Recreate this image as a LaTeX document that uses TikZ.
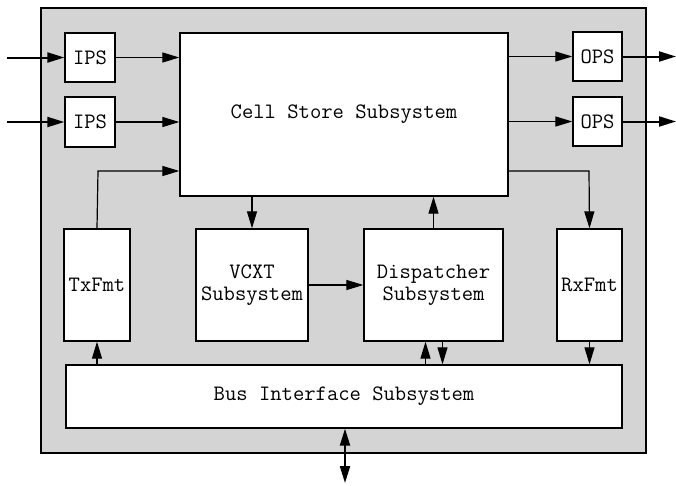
\documentclass[tikz,border=0pt]{standalone}
\usepackage{fontspec}
\usetikzlibrary{arrows.meta}
\begin{document}
\begin{tikzpicture}[x=1pt,y=-1pt,
  box/.style={draw=black, line width=1.3pt, fill=white, inner sep=0pt,
    font=\ttfamily\fontsize{22}{22}\selectfont, align=center},
  conn/.style={line width=1.2pt, -{Triangle[length=17pt,width=10pt]}},
  ext/.style={line width=2pt, -{Triangle[length=17pt,width=10pt]}},
  both/.style={line width=2pt, {Triangle[length=17pt,width=10pt]}-{Triangle[length=17pt,width=10pt]}}]
\useasboundingbox (0,0) rectangle (676,485);
\draw[line width=2.5pt, fill=black!17] (41,8) rectangle (646,453);
\node[box, minimum width=50pt, minimum height=49pt] (ips1) at (90,57.5) {IPS};
\node[box, minimum width=50pt, minimum height=50pt] (ips2) at (90,122) {IPS};
\node[box, minimum width=328pt, minimum height=163pt] (cell) at (344,114.5) {Cell Store Subsystem};
\node[box, minimum width=49pt, minimum height=49pt] (ops1) at (597.5,56.5) {OPS};
\node[box, minimum width=49pt, minimum height=49pt] (ops2) at (597.5,121.5) {OPS};
\node[box, minimum width=66pt, minimum height=112pt] (tx) at (97,285) {TxFmt};
\node[box, minimum width=112pt, minimum height=112pt] (vcxt) at (252,285) {VCXT\\Subsystem};
\node[box, minimum width=139pt, minimum height=112pt] (disp) at (433.5,285) {Dispatcher\\Subsystem};
\node[box, minimum width=65pt, minimum height=112pt] (rx) at (589.5,285) {RxFmt};
\node[box, minimum width=556pt, minimum height=63pt] (bus) at (344,396.5) {Bus Interface Subsystem};
\coordinate (in1) at (7,57.5);
\coordinate (in2) at (7,122);
\coordinate (out1) at (676,56.5);
\coordinate (out2) at (676,121.5);
\coordinate (ioend) at (345,483);
\coordinate (txturn) at (98,171);
\coordinate (rxturn) at (589,171);
\draw[ext] (in1) -- (ips1.west);
\draw[ext] (in2) -- (ips2.west);
\draw[conn] (ips1.east) -- (ips1.east -| cell.west);
\draw[conn] (ips2.east) -- (ips2.east -| cell.west);
\draw[conn] (ops1.west -| cell.east) -- (ops1.west);
\draw[conn] (ops2.west -| cell.east) -- (ops2.west);
\draw[ext] (ops1.east) -- (out1);
\draw[ext] (ops2.east) -- (out2);
\draw[conn] (tx.north) -- (txturn) -- (txturn -| cell.west);
\draw[conn] (rxturn -| cell.east) -- (rxturn) -- (rx.north);
\draw[conn] (vcxt.north |- cell.south) -- (vcxt.north);
\draw[conn] (disp.north) -- (disp.north |- cell.south);
\draw[conn] (vcxt.east) -- (disp.west);
\draw[conn] (tx.south |- bus.north) -- (tx.south);
\draw[conn] ([xshift=-8pt]disp.south |- bus.north) -- ([xshift=-8pt]disp.south);
\draw[conn] ([xshift=9pt]disp.south) -- ([xshift=9pt]disp.south |- bus.north);
\draw[conn] (rx.south) -- (rx.south |- bus.north);
\draw[both] (ioend |- bus.south) -- (ioend);
\end{tikzpicture}
\end{document}
